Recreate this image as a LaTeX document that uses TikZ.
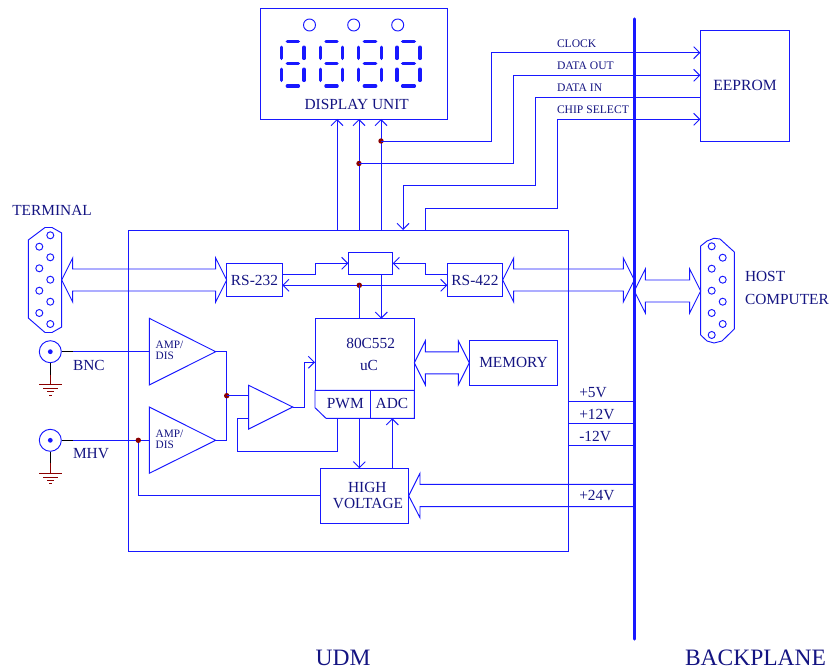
\documentclass[tikz,border=0pt]{standalone}
\usepackage{fontspec}
\setmainfont{Liberation Serif}
\usetikzlibrary{arrows.meta,calc}
\definecolor{wire}{RGB}{24,24,255}
\definecolor{ink}{RGB}{20,20,130}
\definecolor{junc}{RGB}{139,0,0}
\newcommand{\fs}[1]{\fontsize{#1}{#1}\selectfont}
\newcommand{\hbus}[2]{\draw[wl] let \p1=(#1),\p2=(#2) in
  (\x1,\y1) -- (\x1+11pt,\y1+22pt) -- (\x1+11pt,\y1+11pt) -- (\x2-11pt,\y1+11pt) -- (\x2-11pt,\y1+22pt) -- (\x2,\y1)
  -- (\x2-11pt,\y1-22pt) -- (\x2-11pt,\y1-11pt) -- (\x1+11pt,\y1-11pt) -- (\x1+11pt,\y1-22pt) -- cycle;}
\newcommand{\digit}[2]{%
  \foreach \yy in {41.7,63.7,86}{\draw[seg] (#1+5.6,\yy) -- (#2-5.6,\yy);}
  \foreach \xx in {#1,#2}{\draw[seg] (\xx,47.2) -- (\xx,58.4); \draw[seg] (\xx,69.2) -- (\xx,80.4);}}
\newcommand{\coax}[2]{%
  \node[draw=wire,wl,circle,minimum size=22pt,inner sep=0pt] (#1) at (50.3,#2) {};
  \fill[wire] (#1) circle (2.4);
  \coordinate (#1g) at (50.3,#2+32.7);
  \draw[black,line width=.9pt] (#1.south) -- ++(0,12);
  \draw[junc,line width=.95pt] (50.3,#2+23) -- (#1g);
  \draw[junc,line width=.95pt] (39.3,#2+32.7) -- (61.7,#2+32.7) (43.3,#2+36.7) -- (58.3,#2+36.7) (47,#2+40) -- (54,#2+40) (49.3,#2+43.3) -- (52,#2+43.3);}
\tikzset{
  x=1pt,y=-1pt,
  wl/.style={draw=wire,line width=.95pt},
  seg/.style={draw=wire,line width=3.3pt,line cap=round},
  box/.style={wl,rectangle,inner sep=0pt,outer sep=0pt,text=ink,align=center},
  lbl/.style={text=ink,inner sep=0pt,outer sep=0pt,align=center},
  small/.style={lbl,anchor=west,font=\fs{11.6}},
  mid/.style={lbl,font=\fs{15.4}},
  to/.style={wl,-{Straight Barb[length=6pt,width=12pt,line width=.95pt]}},
  both/.style={wl,{Straight Barb[length=6pt,width=12pt,line width=.95pt]}-{Straight Barb[length=6pt,width=12pt,line width=.95pt]}},
  dot/.style={circle,fill=junc,inner sep=0pt,minimum size=5.4pt},
  hole/.style={wl,fill=white},
  tri/.style={wl}
}
\begin{document}
\begin{tikzpicture}
\useasboundingbox (0,0) rectangle (830,671);
% main frame and backplane
\node[box,minimum width=440.3pt,minimum height=321pt] (udm) at (348.15,390.5) {};
\draw[draw=wire,line width=3.4pt,line cap=round] (634.3,19) coordinate (bpT) -- (634.3,639) coordinate (bpB);
% display
\node[box,minimum width=187pt,minimum height=110.5pt] (disp) at (353.5,63.75) {};
\foreach \n/\xx in {a/309.5,b/353.7,c/397.7}{\node[wl,circle,minimum size=12pt,inner sep=0pt] (led\n) at (\xx,25) {};}
\digit{281.7}{304}
\digit{320.3}{342.7}
\digit{358.7}{381.3}
\digit{397}{420}
\node[mid] (disptxt) at (356.7,104.7) {DISPLAY UNIT};
% EEPROM
\node[box,minimum width=89pt,minimum height=110.6pt,font=\fs{15.6}] (eeprom) at (744.8,86) {};
\node[lbl,font=\fs{15.6}] (eetxt) at (745,85) {EEPROM};
% boxes
\node[box,minimum width=55.6pt,minimum height=33.4pt,font=\fs{15.4}] (rsa) at (254.5,280) {RS-232};
\node[box,minimum width=55.4pt,minimum height=33.4pt,font=\fs{15.4}] (rsb) at (475,280) {RS-422};
\node[box,minimum width=44.4pt,minimum height=22pt] (mux) at (370.5,263.3) {};
\node[box,minimum width=88.4pt,minimum height=44.4pt,font=\fs{15.4}] (mem) at (513.5,362.85) {MEMORY};
\node[box,minimum width=88.4pt,minimum height=55pt] (hv) at (364.5,495.8) {};
\node[mid] (hvb) at (367.3,487) {HIGH};
\node[mid] (hvc) at (368,503.7) {VOLTAGE};
% microcontroller
\node[box,minimum width=99.3pt,minimum height=71.6pt] (uc) at (364.65,354.5) {};
\draw[wl,fill=white] (315,390.3) coordinate (ucL) -- (315,407.7) -- (326,418.3) -- (414.3,418.3) coordinate (ucBR) -- (414.3,390.3) coordinate (ucR) -- cycle;
\draw[wl] (370.3,390.3) -- (370.3,418.3);
\node[mid] (ucn) at (370.7,343) {80C552};
\node[mid] (uct) at (369,365) {uC};
\node[mid] (pwm) at (345.3,403.7) {PWM};
\node[mid] (adc) at (392,403.7) {ADC};
% amplifiers
\draw[tri] (149.3,318.3) coordinate (a1t) -- (149.3,385) -- (215.7,351.7) coordinate (a1o) -- cycle;
\draw[tri] (149.3,407) coordinate (a2t) -- (149.3,473.3) -- (215.7,440.3) coordinate (a2o) -- cycle;
\draw[tri] (248.7,385.3) coordinate (a3t) -- (248.7,429) -- (292.7,407) coordinate (a3o) -- cycle;
\node[lbl,anchor=west,font=\fs{11.3}] (a1a) at (155.7,345.3) {AMP/};
\node[lbl,anchor=west,font=\fs{11.3}] (a1b) at (155.7,355.7) {DIS};
\node[lbl,anchor=west,font=\fs{11.3}] (a2a) at (155.7,434.3) {AMP/};
\node[lbl,anchor=west,font=\fs{11.3}] (a2b) at (155.7,445) {DIS};
% display connections
\draw[to] (337,230) -- (337,119);
\draw[to] (359,230) -- (359,119);
\draw[to] (381,230) -- (381,119);
\node[dot] (d1) at (381,141) {};
\node[dot] (d2) at (359,163.5) {};
\draw[to] (d1.center) -- (491,141) -- (491,52.7) -- (700.3,52.7);
\draw[to] (d2.center) -- (513.5,163.5) -- (513.5,75.3) -- (700.3,75.3);
\draw[to] (700.3,97.3) -- (535.7,97.3) -- (535.7,185.7) -- (403,185.7) -- (403,230);
\draw[to] (425.3,230) -- (425.3,208) -- (557.3,208) -- (557.3,119.3) -- (700.3,119.3);
\node[small] (l1) at (557,44) {CLOCK};
\node[small] (l2) at (557,66) {DATA OUT};
\node[small] (l3) at (557,88) {DATA IN};
\node[small] (l4) at (557,110) {CHIP SELECT};
% terminal connector
\draw[wl] (28.3,240) -- (45,227.5) -- (52,227.5) -- (61.7,233) -- (61.7,327) -- (52,332.5) -- (45,332.5) -- (28.3,318) -- cycle;
\foreach \yy in {235.3,257.3,279.7,301.7,324}{\draw[hole] (50.3,\yy) circle (3.5);}
\foreach \yy in {246.7,268.3,290.7,313}{\draw[hole] (39.3,\yy) circle (3.5);}
\coordinate (termR) at (61.7,280);
\coordinate (rsaW) at (226.7,280);
\hbus{termR}{rsaW}
\node[lbl,anchor=west,font=\fs{15.4}] (term) at (12.3,210) {TERMINAL};
% host connector
\draw[wl] (700.7,246) -- (707,241) -- (714,238.3) -- (720,239) -- (734.3,252) -- (734.3,329) -- (722,341) -- (714,343) -- (707,341) -- (700.7,335) -- cycle;
\foreach \yy in {246.3,268.7,290.7,313,335}{\draw[hole] (711.7,\yy) circle (3.5);}
\foreach \yy in {257.7,279.7,301.7,324}{\draw[hole] (722.7,\yy) circle (3.5);}
\node[lbl,anchor=west,font=\fs{15.4}] (host) at (745,276.7) {HOST};
\node[lbl,anchor=west,font=\fs{15.4}] (comp) at (745,299) {COMPUTER};
% wide buses
\coordinate (bpa) at (634.3,280);
\coordinate (bpb) at (634.3,291);
\coordinate (hostW) at (700.7,291);
\hbus{rsb.east}{bpa}
\hbus{bpb}{hostW}
\coordinate (ucE) at (414.3,362.85);
\hbus{ucE}{mem.west}
% high voltage feed
\draw[wl] (634.3,484.3) -- (420,484.3) -- (420,473.3) -- (408.7,495.8) coordinate (hvE) -- (420,517.7) -- (420,506.7) -- (634.3,506.7);
% rs links
\draw[to] (282.3,274.3) -- (315.3,274.3) -- (315.3,263.3) -- (mux.west);
\draw[to] (447.3,274.3) -- (425.3,274.3) -- (425.3,263.3) -- (mux.east);
\draw[both] (282.3,285.3) -- (447.3,285.3);
\node[dot] (d3) at (359.3,285.3) {};
\draw[wl] (d3.center) -- (359.3,318.7);
\draw[to] (381.3,274.3) -- (381.3,318.7);
% uC - HV
\draw[to] (359.3,418.3) -- (359.3,468.3);
\draw[to] (392.3,468.3) -- (392.3,418.3);
% amplifiers wiring
\draw[wl] (a1o) -- (226.7,351.7) -- (226.7,440.3) -- (a2o);
\node[dot] (d4) at (226.7,395.7) {};
\draw[wl] (d4.center) -- (248.7,395.7);
\draw[to] (a3o) -- (304.3,407) -- (304.3,362.3) -- (315,362.3);
\draw[wl] (248.7,418.3) -- (237.7,418.3) -- (237.7,451) -- (337.3,451) -- (337.3,418.3);
% coax
\coax{bnc}{351.7}
\coax{mhv}{440.3}
\draw[black,line width=.9pt] (bnc.east) -- (73,351.7);
\draw[wl] (73,351.7) -- (149.3,351.7);
\draw[black,line width=.9pt] (mhv.east) -- (73,440.3);
\draw[wl] (73,440.3) -- (149.3,440.3);
\draw[wl] (138.3,440.3) -- (138.3,495.8) -- (hv.west);
\node[dot] (d5) at (138.3,440.3) {};
\node[lbl,anchor=west,font=\fs{15.4}] (bnct) at (73,365) {BNC};
\node[lbl,anchor=west,font=\fs{15.4}] (mhvt) at (73,454) {MHV};
% power
\draw[wl] (568.3,401.7) -- (634.3,401.7) (568.3,423.7) -- (634.3,423.7) (568.3,445.7) -- (634.3,445.7);
\node[lbl,anchor=west,font=\fs{15.4}] (p5) at (579.3,392.7) {+5V};
\node[lbl,anchor=west,font=\fs{15.4}] (p12) at (579.3,415) {+12V};
\node[lbl,anchor=west,font=\fs{15.4}] (m12) at (579.3,437) {-12V};
\node[lbl,anchor=west,font=\fs{15.4}] (p24) at (579.3,496) {+24V};
% titles
\node[lbl,font=\fs{23.5}] (t1) at (343,658) {UDM};
\node[lbl,font=\fs{23.5}] (t2) at (755.5,658) {BACKPLANE};
\end{tikzpicture}
\end{document}
